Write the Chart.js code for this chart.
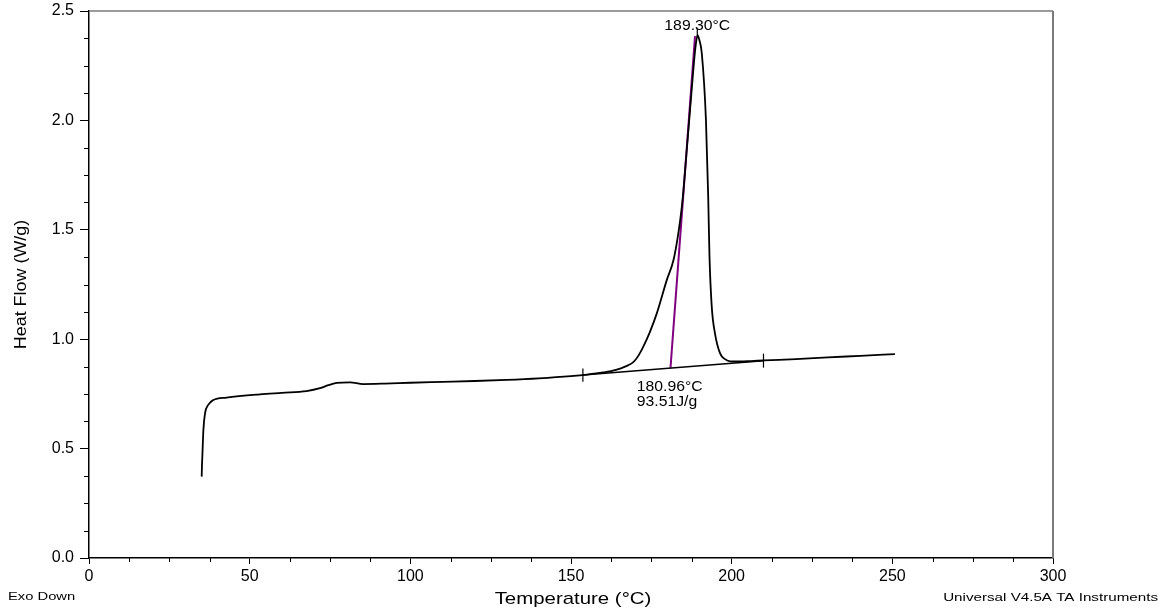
<!DOCTYPE html>
<html>
<head>
<meta charset="utf-8">
<script src="https://cdn.jsdelivr.net/npm/chart.js@4"></script>
<style>
  html, body { margin: 0; padding: 0; background: #fff; }
  #wrap { width: 1169px; height: 613px; }
</style>
</head>
<body>
<div id="wrap"><canvas id="dsc"></canvas></div>
<script>
// DSC trace
const tempC = [
  35.07, 35.15, 35.27, 35.6, 36.1, 37.1, 38.7, 42.8, 53.2, 60, 67.7, 71.9, 74.5,
  77.1, 81.2, 85.3, 92, 99.9, 110, 120, 130, 140, 150, 155, 160, 164, 167, 169.4,
  171, 172.5, 174.6, 176.7, 179.8, 181.9, 183.4, 184.5, 185.0, 186.0, 187.0,
  188.0, 188.7, 189.4, 189.9, 190.7, 192.0, 192.7, 193.1, 193.8, 194.8, 196.4,
  197.8, 199.5, 202.6, 206, 210, 220, 230, 240, 250.8,
];
const heatFlow = [
  0.372, 0.42, 0.463, 0.585, 0.661, 0.70, 0.722, 0.733, 0.748, 0.755, 0.763, 0.776, 0.79,
  0.80, 0.803, 0.795, 0.797, 0.801, 0.805, 0.809, 0.814, 0.821, 0.831, 0.838, 0.848, 0.86, 0.876, 0.895,
  0.925, 0.966, 1.035, 1.118, 1.27, 1.362, 1.484, 1.606, 1.68, 1.86, 2.04,
  2.22, 2.33, 2.39, 2.37, 2.307, 2.0, 1.65, 1.377, 1.149, 1.027, 0.935,
  0.91, 0.899, 0.898, 0.9, 0.903, 0.909, 0.917, 0.924, 0.932,
];

// integration baseline and onset tangent
const baselineX = [153.7, 209.9];
const baselineY = [0.836, 0.902];
const tangentX = [180.96, 188.6];
const tangentY = [0.868, 2.385];
const peakTemp = 189.3;
const peakMarkY = [2.38, 2.42];

const xTicks = [0, 50, 100, 150, 200, 250, 300];
const yTicks = [0.0, 0.5, 1.0, 1.5, 2.0, 2.5];

const peakLabel = "189.30°C";
const onsetLabel = "180.96°C";
const enthalpyLabel = "93.51J/g";

const FONT = "'Liberation Sans', Arial, sans-serif";

const toPoints = (xs, ys) => xs.map((x, i) => ({ x: x, y: ys[i] }));
const markAt = (x, y, h) => [{ x: x, y: y - h }, { x: x, y: y + h }];

function stretchText(ctx, text, x, y, align, sx, rot) {
  ctx.save();
  ctx.translate(x, y);
  if (rot) ctx.rotate(rot);
  ctx.scale(sx, 1);
  ctx.textAlign = align;
  ctx.textBaseline = "middle";
  ctx.fillText(text, 0, 0);
  ctx.restore();
}

const decorPlugin = {
  id: "decor",
  afterDraw(chart) {
    const ctx = chart.ctx;
    const a = chart.chartArea;
    const xs = chart.scales.x;
    const ys = chart.scales.y;

    // frame top / right in grey
    ctx.save();
    ctx.strokeStyle = "#7a7a7a";
    ctx.lineWidth = 1.5;
    ctx.beginPath();
    ctx.moveTo(a.left, a.top);
    ctx.lineTo(a.right, a.top);
    ctx.stroke();
    ctx.lineWidth = 2;
    ctx.beginPath();
    ctx.moveTo(a.right, a.top);
    ctx.lineTo(a.right, a.bottom);
    ctx.stroke();

    // minor ticks
    ctx.strokeStyle = "#000";
    ctx.lineWidth = 1;
    ctx.beginPath();
    for (let v = 0.125; v < 2.5; v += 0.125) {
      if (Math.abs(v / 0.5 - Math.round(v / 0.5)) < 1e-6) continue;
      const py = Math.round(ys.getPixelForValue(v)) + 0.5;
      ctx.moveTo(a.left - 5, py);
      ctx.lineTo(a.left, py);
    }
    for (let v = 12.5; v < 300; v += 12.5) {
      if (v % 50 === 0) continue;
      const px = Math.round(xs.getPixelForValue(v)) + 0.5;
      ctx.moveTo(px, a.bottom);
      ctx.lineTo(px, a.bottom + 4);
    }
    ctx.stroke();

    // annotations
    ctx.fillStyle = "#000";
    ctx.font = "15px " + FONT;
    stretchText(ctx, peakLabel, xs.getPixelForValue(peakTemp), ys.getPixelForValue(2.43), "center", 1.05);
    stretchText(ctx, onsetLabel, xs.getPixelForValue(170.46), ys.getPixelForValue(0.783), "left", 1.05);
    stretchText(ctx, enthalpyLabel, xs.getPixelForValue(170.46), ys.getPixelForValue(0.713), "left", 1.05);

    // axis titles
    ctx.font = "17px " + FONT;
    stretchText(ctx, "Temperature (°C)", 573, 599, "center", 1.2);
    ctx.font = "16px " + FONT;
    stretchText(ctx, "Heat Flow (W/g)", 22, (a.top + a.bottom) / 2, "center", 1.12, -Math.PI / 2);

    // footer
    ctx.font = "11px " + FONT;
    stretchText(ctx, "Exo Down", 8, 597, "left", 1.34);
    stretchText(ctx, "Universal V4.5A TA Instruments", 1158, 598, "right", 1.38);
    ctx.restore();
  },
};

const lineStyle = {
  borderColor: "#000",
  borderWidth: 1.8,
  pointRadius: 0,
  fill: false,
  tension: 0,
};

new Chart(document.getElementById("dsc"), {
  type: "line",
  data: {
    datasets: [
      {
        ...lineStyle,
        label: "Heat Flow",
        data: toPoints(tempC, heatFlow),
        cubicInterpolationMode: "monotone",
      },
      { ...lineStyle, label: "Baseline", borderWidth: 1.5, data: toPoints(baselineX, baselineY) },
      { ...lineStyle, label: "Start", borderWidth: 1.2, data: markAt(baselineX[0], baselineY[0], 0.03) },
      { ...lineStyle, label: "End", borderWidth: 1.2, data: markAt(baselineX[1], baselineY[1], 0.032) },
      {
        ...lineStyle,
        label: "Peak",
        borderWidth: 1.2,
        data: toPoints([peakTemp, peakTemp], peakMarkY),
      },
      {
        ...lineStyle,
        label: "Onset",
        borderColor: "#800080",
        borderWidth: 2,
        data: toPoints(tangentX, tangentY),
      },
    ],
  },
  options: {
    responsive: true,
    maintainAspectRatio: false,
    animation: false,
    layout: { padding: { top: 11, right: 116, left: 0, bottom: 0 } },
    plugins: {
      legend: { display: false },
      tooltip: { enabled: false },
    },
    scales: {
      x: {
        type: "linear",
        min: 0,
        max: 300,
        afterBuildTicks: (s) => { s.ticks = xTicks.map((v) => ({ value: v })); },
        afterFit: (s) => { s.height = 55; s.paddingLeft = 0; s.paddingRight = 0; },
        ticks: { color: "#000", font: { family: FONT, size: 16 }, padding: 3, maxRotation: 0 },
        grid: { drawOnChartArea: false, tickLength: 6, tickColor: "#000", tickWidth: 1 },
        border: { color: "#000", width: 1.5 },
      },
      y: {
        min: 0,
        max: 2.5,
        afterBuildTicks: (s) => { s.ticks = yTicks.map((v) => ({ value: v })); },
        afterFit: (s) => { s.width = 89; s.paddingTop = 0; s.paddingBottom = 0; },
        ticks: {
          color: "#000",
          font: { family: FONT, size: 16 },
          padding: 6,
          callback: (v) => Number(v).toFixed(1),
        },
        grid: { drawOnChartArea: false, tickLength: 9, tickColor: "#000", tickWidth: 1 },
        border: { color: "#000", width: 1.5 },
      },
    },
  },
  plugins: [decorPlugin],
});
</script>
</body>
</html>
